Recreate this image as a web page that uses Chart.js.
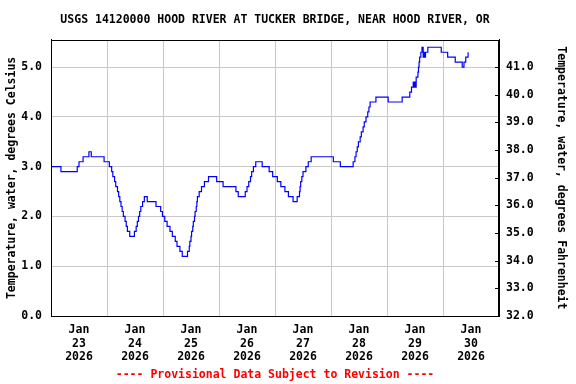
<!DOCTYPE html>
<html>
<head>
<meta charset="utf-8">
<script src="https://cdn.jsdelivr.net/npm/chart.js@4"></script>
<style>
  body { margin: 0; background: #fff; }
  canvas { display: block; }
</style>
</head>
<body>
<canvas id="chart" width="576" height="384"></canvas>
<script>
const titleText = "USGS 14120000 HOOD RIVER AT TUCKER BRIDGE, NEAR HOOD RIVER, OR";
const footerText = "---- Provisional Data Subject to Revision ----";
const leftTitle = "Temperature, water, degrees Celsius";
const rightTitle = "Temperature, water, degrees Fahrenheit";
const month = "Jan";
const year = "2026";
const days = ["23", "24", "25", "26", "27", "28", "29", "30"];

// hours since Jan 23 00:00 where the reading changes, and the new reading (deg C)
const hours = [
  0, 4.25, 11.25, 12, 13.75, 16.25, 17.25, 22.75, 25, 26,
  26.5, 27.25, 27.75, 28.5, 29, 29.5, 30, 30.5, 31, 31.75,
  32.25, 32.75, 33.75, 35.75, 36.5, 37, 37.5, 38, 38.5, 39.25,
  40, 41.25, 45, 47, 47.75, 48.75, 49.75, 51, 52, 53.25,
  54, 55.25, 56.25, 58.5, 59.25, 59.5, 60, 60.25, 60.75, 61,
  61.5, 61.75, 62.25, 62.5, 62.75, 63.5, 64.5, 65.75, 67.5, 71,
  73.75, 79.25, 80.25, 83.25, 84, 84.75, 85.5, 86, 86.75, 87.75,
  90.5, 93.5, 95, 97, 98.5, 100.25, 101.75, 103.75, 105.5, 106.5,
  106.75, 107, 107.5, 108, 109.25, 110.25, 111.5, 121, 124, 129.5,
  130.25, 130.75, 131.25, 131.75, 132.5, 133, 133.75, 134.25, 135, 135.75,
  136.25, 136.75, 139.25, 144.5, 150.5, 153.75, 154.5, 155.25, 155.5, 155.75,
  156, 156.5, 157.25, 157.5, 157.75, 158, 158.5, 159, 159.5, 159.75,
  160.25, 160.5, 161.5, 167.25, 170, 173.25, 176.25, 177, 177.75, 178.75
];
const tempC = [
  3.0, 2.9, 3.0, 3.1, 3.2, 3.3, 3.2, 3.1, 3.0, 2.9,
  2.8, 2.7, 2.6, 2.5, 2.4, 2.3, 2.2, 2.1, 2.0, 1.9,
  1.8, 1.7, 1.6, 1.7, 1.8, 1.9, 2.0, 2.1, 2.2, 2.3,
  2.4, 2.3, 2.2, 2.1, 2.0, 1.9, 1.8, 1.7, 1.6, 1.5,
  1.4, 1.3, 1.2, 1.3, 1.4, 1.5, 1.6, 1.7, 1.8, 1.9,
  2.0, 2.1, 2.2, 2.3, 2.4, 2.5, 2.6, 2.7, 2.8, 2.7,
  2.6, 2.5, 2.4, 2.5, 2.6, 2.7, 2.8, 2.9, 3.0, 3.1,
  3.0, 2.9, 2.8, 2.7, 2.6, 2.5, 2.4, 2.3, 2.4, 2.5,
  2.6, 2.7, 2.8, 2.9, 3.0, 3.1, 3.2, 3.1, 3.0, 3.1,
  3.2, 3.3, 3.4, 3.5, 3.6, 3.7, 3.8, 3.9, 4.0, 4.1,
  4.2, 4.3, 4.4, 4.3, 4.4, 4.5, 4.6, 4.7, 4.6, 4.7,
  4.6, 4.8, 4.9, 5.0, 5.1, 5.2, 5.3, 5.4, 5.2, 5.3,
  5.2, 5.3, 5.4, 5.3, 5.2, 5.1, 5.0, 5.1, 5.2, 5.3
];

const cMin = 0, cMax = 5.55;
const fMin = 32, fMax = 32 + cMax * 1.8;
const font = { family: "DejaVu Sans Mono", weight: "bold", size: 11.5 };

const points = hours.map((h, i) => ({ x: h, y: tempC[i] }));

// keep only whole-number ticks (drop the extra one Chart.js adds at max)
const wholeTicks = s => { s.ticks = s.ticks.filter(t => Number.isInteger(Math.round(t.value * 1000) / 1000)); };

// black frame round the plot and short inward ticks on the Fahrenheit side
const framePlugin = {
  id: "frame",
  afterDraw(chart) {
    const a = chart.chartArea, ctx = chart.ctx;
    ctx.save();
    ctx.strokeStyle = "#000";
    ctx.lineWidth = 1;
    ctx.strokeRect(Math.round(a.left) + 0.5, Math.round(a.top) + 0.5,
      Math.round(a.right - a.left) - 1, Math.round(a.bottom - a.top));
    const yF = chart.scales.yF;
    yF.ticks.forEach(t => {
      const y = Math.round(yF.getPixelForValue(t.value)) + 0.5;
      ctx.beginPath();
      ctx.moveTo(a.right - 4, y);
      ctx.lineTo(a.right, y);
      ctx.stroke();
    });
    ctx.restore();
  }
};

new Chart(document.getElementById("chart"), {
  type: "line",
  data: {
    datasets: [{
      data: points,
      borderColor: "#0000ff",
      borderWidth: 1.2,
      pointRadius: 0,
      stepped: true,
      fill: false
    }]
  },
  options: {
    responsive: false,
    animation: false,
    layout: { padding: 0 },
    plugins: {
      legend: { display: false },
      tooltip: { enabled: false },
      title: {
        display: true,
        fullSize: false,
        text: titleText,
        color: "#000",
        font: font,
        padding: { top: 13, bottom: 13 }
      },
      subtitle: {
        display: true,
        fullSize: false,
        position: "bottom",
        text: footerText,
        color: "#ff0000",
        font: font,
        padding: { top: 5, bottom: 2 }
      }
    },
    scales: {
      x: {
        type: "linear",
        min: 0,
        max: 192,
        afterFit: s => { s.height = 384 - 20.8 - 316; },
        ticks: {
          stepSize: 12,
          autoSkip: false,
          maxRotation: 0,
          padding: 7,
          color: "#000",
          font: font,
          callback: v => (v % 24 === 12) ? [month, days[(v - 12) / 24], year] : ""
        },
        grid: {
          drawTicks: false,
          color: c => (c.tick && c.tick.value % 24 === 0) ? "#c8c8c8" : "rgba(0,0,0,0)"
        },
        border: { color: "#000" }
      },
      y: {
        position: "left",
        min: cMin,
        max: cMax,
        afterFit: s => { s.width = 51; },
        afterBuildTicks: wholeTicks,
        ticks: {
          stepSize: 1,
          padding: 9,
          color: "#000",
          font: font,
          callback: v => v.toFixed(1)
        },
        grid: { drawTicks: false, color: "#c8c8c8" },
        border: { color: "#000" },
        title: {
          display: true,
          text: leftTitle,
          color: "#000",
          font: font,
          padding: { top: 5, bottom: 0 }
        }
      },
      yF: {
        position: "right",
        min: fMin,
        max: fMax,
        afterFit: s => { s.width = 77; },
        afterBuildTicks: wholeTicks,
        ticks: {
          stepSize: 1,
          padding: 7,
          color: "#000",
          font: font,
          callback: v => v.toFixed(1)
        },
        grid: { display: false, drawTicks: false },
        border: { display: true, color: "#000" },
        title: {
          display: true,
          text: rightTitle,
          color: "#000",
          font: font,
          padding: { top: 8, bottom: 0 }
        }
      }
    }
  },
  plugins: [framePlugin]
});
</script>
</body>
</html>
